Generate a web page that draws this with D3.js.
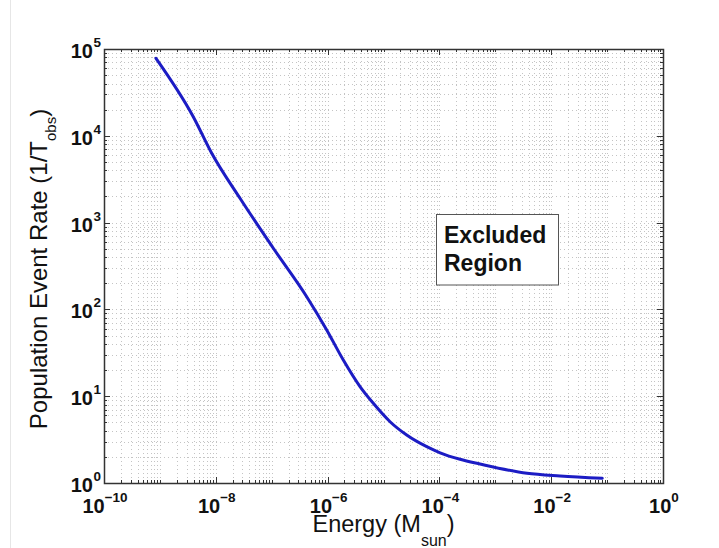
<!DOCTYPE html>
<html>
<head>
<meta charset="utf-8">
<script src="https://cdn.jsdelivr.net/npm/d3@7"></script>
<style>
html,body{margin:0;padding:0;background:#fff;}
svg{display:block;font-family:"Liberation Sans",Arial,Helvetica,sans-serif;}
</style>
</head>
<body>
<svg id="chart" width="719" height="548"></svg>
<script>
// Data
const energy = [8.51e-10, 3.95e-9, 8.45e-9, 2.71e-8, 1.07e-7, 4.23e-7, 9.64e-7, 1.91e-6, 3.80e-6, 6.57e-6, 1.31e-5, 2.60e-5, 5.93e-5, 1.03e-4, 2.34e-4, 5.32e-4, 3.69e-3, 1.44e-2, 8.2e-2];
const rate   = [7.81e4, 1.66e4, 6.29e3, 1.905e3, 506, 140, 58, 26.1, 12.9, 8.28, 5.08, 3.57, 2.62, 2.23, 1.875, 1.655, 1.294, 1.205, 1.133];
const xTickExp = [-10, -8, -6, -4, -2, 0];
const yTickExp = [0, 1, 2, 3, 4, 5];
const xTitle = "Energy (M", xTitleSub = "sun", xTitleEnd = ")";
const yTitle = "Population Event Rate (1/T", yTitleSub = "obs", yTitleEnd = ")";
const boxLines = ["Excluded", "Region"];

const svg = d3.select("#chart");
const L = 104, R = 663, T = 49, B = 483;

const x = d3.scaleLog().domain([1e-10, 1]).range([L, R]);
const y = d3.scaleLog().domain([1, 1e5]).range([B, T]);

// faint page edge line
svg.append("line").attr("x1", 10.5).attr("x2", 10.5).attr("y1", 0).attr("y2", 548)
  .attr("stroke", "#e6e6e6").attr("stroke-width", 1);

// grid values (every 1..9 x 10^d)
const xGrid = [], yGrid = [];
for (let d = -10; d < 0; d++) for (let k = 1; k <= 9; k++) xGrid.push(k * Math.pow(10, d));
xGrid.push(1);
for (let d = 0; d < 5; d++) for (let k = 1; k <= 9; k++) yGrid.push(k * Math.pow(10, d));
yGrid.push(1e5);

const g = svg.append("g");
g.selectAll(".vg").data(xGrid).enter().append("line")
  .attr("x1", d => Math.round(x(d)) + 0.5).attr("x2", d => Math.round(x(d)) + 0.5)
  .attr("y1", T).attr("y2", B)
  .attr("stroke", "#c4c4c4").attr("stroke-width", 1).attr("stroke-dasharray", "1,3");
g.selectAll(".hg").data(yGrid).enter().append("line")
  .attr("y1", d => Math.round(y(d)) + 0.5).attr("y2", d => Math.round(y(d)) + 0.5)
  .attr("x1", L).attr("x2", R)
  .attr("stroke", "#c4c4c4").attr("stroke-width", 1).attr("stroke-dasharray", "1,3");

// ticks (inside, all four sides)
const isMajorX = d => xTickExp.some(e => Math.abs(Math.log10(d) - e) < 1e-9);
const isMajorY = d => yTickExp.some(e => Math.abs(Math.log10(d) - e) < 1e-9);
const tk = svg.append("g").attr("stroke", "#333").attr("stroke-width", 1);
xGrid.forEach(d => {
  const len = isMajorX(d) ? 6 : 3;
  const px = Math.round(x(d)) + 0.5;
  tk.append("line").attr("x1", px).attr("x2", px).attr("y1", B).attr("y2", B - len);
  tk.append("line").attr("x1", px).attr("x2", px).attr("y1", T).attr("y2", T + len);
});
yGrid.forEach(d => {
  const len = isMajorY(d) ? 6 : 3;
  const py = Math.round(y(d)) + 0.5;
  tk.append("line").attr("y1", py).attr("y2", py).attr("x1", L).attr("x2", L + len);
  tk.append("line").attr("y1", py).attr("y2", py).attr("x1", R).attr("x2", R - len);
});

// curve
const line = d3.line().x((d, i) => x(energy[i])).y((d, i) => y(rate[i])).curve(d3.curveMonotoneX);
svg.append("path").datum(energy).attr("d", line)
  .attr("fill", "none").attr("stroke", "#1c1cc4").attr("stroke-width", 3)
  .attr("stroke-linejoin", "round").attr("stroke-linecap", "round");

// box
svg.append("rect").attr("x", L + 0.5).attr("y", T + 0.5).attr("width", R - L).attr("height", B - T)
  .attr("fill", "none").attr("stroke", "#333").attr("stroke-width", 1.5);

// x tick labels
xTickExp.forEach(e => {
  const t = svg.append("text").attr("x", x(Math.pow(10, e)) + 1).attr("y", 513)
    .attr("text-anchor", "middle").attr("font-weight", "bold").attr("font-size", 20).attr("fill", "#111");
  t.append("tspan").text("10");
  t.append("tspan").attr("dy", -11).attr("font-size", 13.5).text(e < 0 ? "\u2212" + (-e) : String(e));
});

// y tick labels
yTickExp.forEach(e => {
  const py = y(Math.pow(10, e));
  svg.append("text").attr("x", 93).attr("y", py + 9).attr("text-anchor", "end")
    .attr("font-weight", "bold").attr("font-size", 20).attr("fill", "#111").text("10");
  svg.append("text").attr("x", 93.5).attr("y", py - 2).attr("text-anchor", "start")
    .attr("font-weight", "bold").attr("font-size", 13.5).attr("fill", "#111").text(String(e));
});

// x title
const xt = svg.append("text").attr("x", (L + R) / 2).attr("y", 531.5).attr("text-anchor", "middle")
  .attr("font-size", 23.5).attr("fill", "#111");
xt.append("tspan").text(xTitle);
xt.append("tspan").attr("dy", 14).attr("font-size", 16).text(xTitleSub);
xt.append("tspan").attr("dy", -14).text(xTitleEnd);

// y title
const yt = svg.append("text").attr("transform", `translate(47,269) rotate(-90)`)
  .attr("text-anchor", "middle").attr("font-size", 24).attr("fill", "#111");
yt.append("tspan").text(yTitle);
yt.append("tspan").attr("dy", 9).attr("font-size", 15).text(yTitleSub);
yt.append("tspan").attr("dy", -9).text(yTitleEnd);

// annotation box
svg.append("rect").attr("x", 436.5).attr("y", 214.5).attr("width", 122).attr("height", 70.5)
  .attr("fill", "#fff").attr("stroke", "#555").attr("stroke-width", 1);
boxLines.forEach((s, i) => {
  svg.append("text").attr("x", 444).attr("y", 243 + i * 28)
    .attr("font-weight", "bold").attr("font-size", 23).attr("fill", "#111").text(s);
});
</script>
</body>
</html>
